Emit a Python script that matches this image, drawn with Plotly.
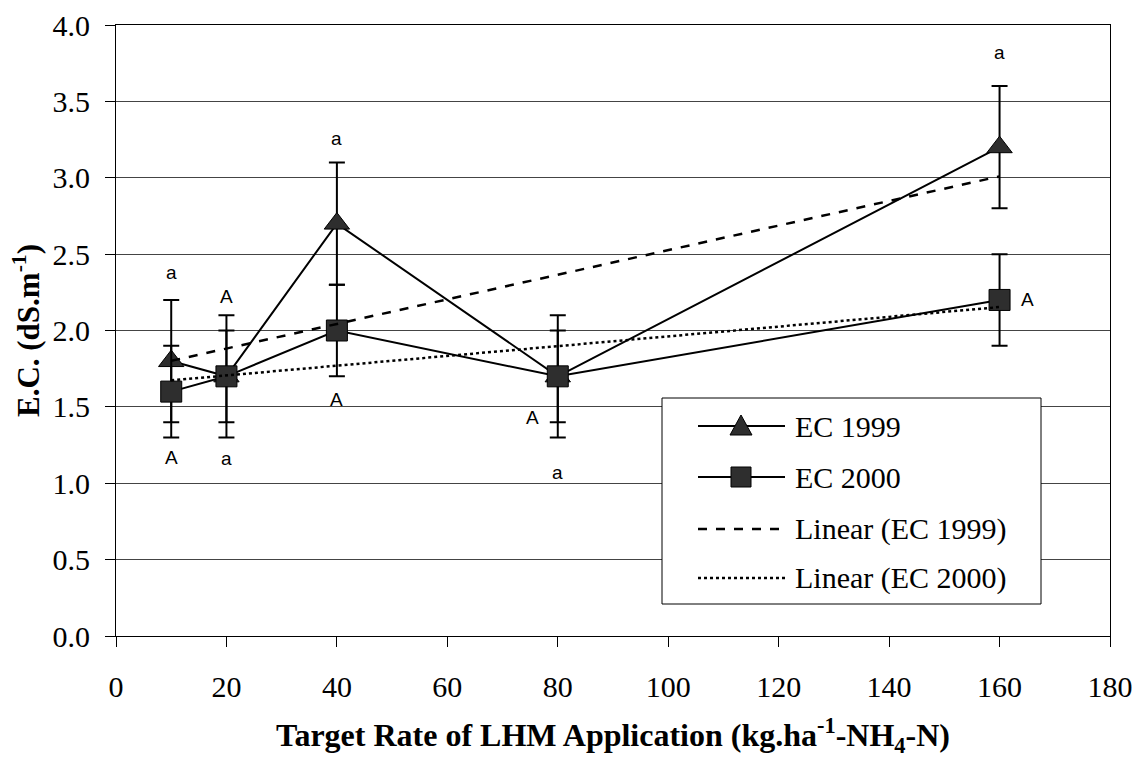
import numpy as np
import plotly.graph_objects as go

rate = [10, 20, 40, 80, 160]
ec1999 = [1.8, 1.7, 2.7, 1.7, 3.2]
ec1999_err = [0.4, 0.4, 0.4, 0.4, 0.4]
ec2000 = [1.6, 1.7, 2.0, 1.7, 2.2]
ec2000_err = [0.3, 0.3, 0.3, 0.3, 0.3]

# significance letters
letter_x = [10, 10, 20, 20, 40, 40, 75.5, 80, 160, 165]
letter_y = [2.38, 1.17, 2.22, 1.16, 3.26, 1.55, 1.43, 1.07, 3.82, 2.20]
letter_t = ["a", "A", "A", "a", "a", "A", "A", "a", "a", "A"]

x_ticks = list(range(0, 181, 20))
y_ticks = [i * 0.5 for i in range(9)]

legend_names = ["EC 1999", "EC 2000", "Linear (EC 1999)", "Linear (EC 2000)"]

serif = "Liberation Serif"
sans = "Liberation Sans"
W, H = 1141, 758
L, R, T, B = 116, 1110, 25, 636


def px(xp):
    return (xp - L) / (R - L)


def py(yp):
    return (B - yp) / (B - T)


fig = go.Figure()
fig.add_trace(go.Scatter(
    x=rate, y=ec1999, name=legend_names[0], mode="lines+markers",
    line=dict(color="black", width=2),
    marker=dict(symbol="triangle-up", size=22, color="#2e2e2e", line=dict(color="black", width=1)),
    error_y=dict(type="data", array=ec1999_err, color="black", thickness=2, width=8),
))
fig.add_trace(go.Scatter(
    x=rate, y=ec2000, name=legend_names[1], mode="lines+markers",
    line=dict(color="black", width=2),
    marker=dict(symbol="square", size=21, color="#2e2e2e", line=dict(color="black", width=1)),
    error_y=dict(type="data", array=ec2000_err, color="black", thickness=2, width=8),
))
xs = np.array(rate, dtype=float)
xfit = np.array([xs.min(), xs.max()])
p1 = np.polyfit(xs, ec1999, 1)
p2 = np.polyfit(xs, ec2000, 1)
fig.add_trace(go.Scatter(x=xfit, y=np.polyval(p1, xfit), name=legend_names[2], mode="lines",
                         line=dict(color="black", width=2.5, dash="dash")))
fig.add_trace(go.Scatter(x=xfit, y=np.polyval(p2, xfit), name=legend_names[3], mode="lines",
                         line=dict(color="black", width=2.5, dash="dot")))

for x, y, t in zip(letter_x, letter_y, letter_t):
    fig.add_annotation(x=x, y=y, text=t, showarrow=False, font=dict(family=sans, size=19, color="black"))

# ---- legend box drawn manually to match the original layout ----
shapes = [dict(type="rect", xref="paper", yref="paper", x0=px(662), x1=px(1041), y0=py(604), y1=py(398),
               fillcolor="white", line=dict(color="black", width=1), layer="above")]
rows = [426, 477, 529, 578]
lx0, lx1, lxc = 698, 785, 741
styles = ["solid", "solid", "dash", "dot"]
for ry, st in zip(rows, styles):
    shapes.append(dict(type="line", xref="paper", yref="paper", x0=px(lx0), x1=px(lx1), y0=py(ry), y1=py(ry),
                       line=dict(color="black", width=2.5 if st != "solid" else 2, dash=st), layer="above"))
tri = "M {x0} {y0} L {x1} {y0} L {xm} {y1} Z".format(
    x0=px(lxc - 11), x1=px(lxc + 11), xm=px(lxc), y0=py(rows[0] + 9), y1=py(rows[0] - 11))
shapes.append(dict(type="path", xref="paper", yref="paper", path=tri, fillcolor="#2e2e2e",
                   line=dict(color="black", width=1), layer="above"))
shapes.append(dict(type="rect", xref="paper", yref="paper", x0=px(lxc - 10), x1=px(lxc + 10),
                   y0=py(rows[1] + 10), y1=py(rows[1] - 10), fillcolor="#2e2e2e",
                   line=dict(color="black", width=1), layer="above"))
for ry, name in zip(rows, legend_names):
    fig.add_annotation(xref="paper", yref="paper", x=px(793), y=py(ry), text=name,
                       showarrow=False, xanchor="left", yanchor="middle",
                       font=dict(family=serif, size=30, color="black"))

fig.update_layout(width=W, height=H, margin=dict(l=L, r=W - R, t=T, b=H - B, autoexpand=False),
                  paper_bgcolor="white", plot_bgcolor="white",
                  font=dict(family=serif, color="black"), showlegend=False, shapes=shapes)
fig.update_xaxes(range=[0, 180], tickvals=x_ticks, ticktext=[str(v) for v in x_ticks],
                 showgrid=False, zeroline=False, showline=True, linecolor="black", linewidth=1, mirror=True,
                 ticks="outside", ticklen=10, tickcolor="black", ticklabelstandoff=14, automargin=False,
                 tickfont=dict(family=serif, size=30, color="black"),
                 title=dict(text="<b>Target Rate of LHM Application (kg.ha<sup>-1</sup>-NH<sub>4</sub>-N)</b>",
                            font=dict(family=serif, size=32, color="black"), standoff=24))
fig.update_yaxes(range=[0, 4.0], tickvals=y_ticks, ticktext=[f"{v:.1f}" for v in y_ticks],
                 showgrid=True, gridcolor="#444444", gridwidth=1, zeroline=False,
                 showline=True, linecolor="black", linewidth=1, mirror=True,
                 ticks="outside", ticklen=10, tickcolor="black", ticklabelstandoff=9, automargin=False,
                 tickfont=dict(family=serif, size=30, color="black"),
                 title=dict(text="<b>E.C. (dS.m<sup>-1</sup>)</b>",
                            font=dict(family=serif, size=31, color="black"), standoff=3))

fig.write_html("out.html")
